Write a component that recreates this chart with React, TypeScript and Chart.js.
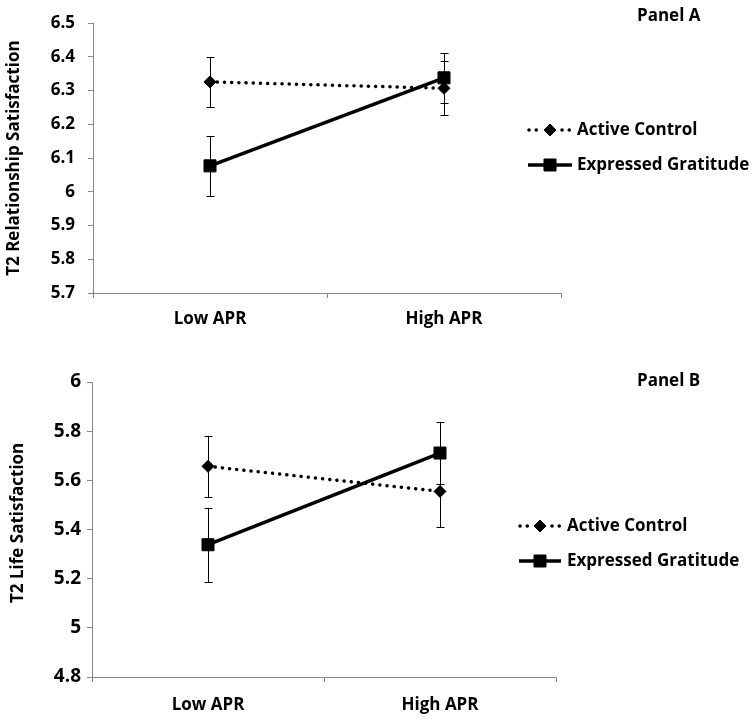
import React, { useEffect, useRef } from "react";
import { Chart, registerables } from "chart.js";

Chart.register(...registerables);

// ---------- data ----------
const categories = ["Low APR", "High APR"];
const seriesNames = ["Active Control", "Expressed Gratitude"];

const panelATicks = [5.7, 5.8, 5.9, 6.0, 6.1, 6.2, 6.3, 6.4, 6.5];
const panelAControl = [6.326, 6.307];
const panelAControlErr = [0.075, 0.08];
const panelAGratitude = [6.077, 6.338];
const panelAGratitudeErr = [0.089, 0.074];

const panelBTicks = [4.8, 5.0, 5.2, 5.4, 5.6, 5.8, 6.0];
const panelBControl = [5.657, 5.555];
const panelBControlErr = [0.125, 0.145];
const panelBGratitude = [5.338, 5.711];
const panelBGratitudeErr = [0.151, 0.126];

const FONT = "'Open Sans', 'Noto Sans', sans-serif";
const FS = 17;

type Spec = {
  panelTitle: string;
  yTitle: string;
  ticks: number[];
  control: number[];
  controlErr: number[];
  gratitude: number[];
  gratitudeErr: number[];
  top: number;
  height: number;
  padTop: number;
  yWidth: number;
  xHeight: number;
  padRight: number;
  yTickPad: number;
  yTickSize: number;
  xTickPad: number;
  yTitlePad: number;
  yTitleShift: number;
  titleX: number;
  titleY: number;
  legendRows: number[];
  legendLine: [number, number];
  legendText: number;
};

const specs: Spec[] = [
  {
    panelTitle: "Panel A",
    yTitle: "T2 Relationship Satisfaction",
    ticks: panelATicks,
    control: panelAControl,
    controlErr: panelAControlErr,
    gratitude: panelAGratitude,
    gratitudeErr: panelAGratitudeErr,
    top: 0,
    height: 343,
    padTop: 17,
    yWidth: 93,
    xHeight: 50,
    padRight: 193,
    yTickPad: 13,
    yTickSize: 17,
    xTickPad: 11,
    yTitlePad: 4,
    yTitleShift: 0,
    titleX: 637,
    titleY: 16,
    legendRows: [130, 165],
    legendLine: [528, 572],
    legendText: 577,
  },
  {
    panelTitle: "Panel B",
    yTitle: "T2 Life Satisfaction",
    ticks: panelBTicks,
    control: panelBControl,
    controlErr: panelBControlErr,
    gratitude: panelBGratitude,
    gratitudeErr: panelBGratitudeErr,
    top: 360,
    height: 361,
    padTop: 22,
    yWidth: 92,
    xHeight: 44,
    padRight: 198,
    yTickPad: 6,
    yTickSize: 19,
    xTickPad: 13,
    yTitlePad: 8,
    yTitleShift: 3,
    titleX: 637,
    titleY: 21,
    legendRows: [166, 201],
    legendLine: [519, 561],
    legendText: 567,
  },
];

function drawMarker(ctx: CanvasRenderingContext2D, style: string, x: number, y: number, r: number) {
  ctx.beginPath();
  if (style === "rectRot") {
    ctx.moveTo(x - r, y);
    ctx.lineTo(x, y - r);
    ctx.lineTo(x + r, y);
    ctx.lineTo(x, y + r);
    ctx.closePath();
  } else {
    const s = r * Math.SQRT1_2;
    ctx.rect(x - s, y - s, 2 * s, 2 * s);
  }
  ctx.fill();
  ctx.stroke();
}

function makeChart(canvas: HTMLCanvasElement, spec: Spec) {
  const errors = [spec.controlErr, spec.gratitudeErr];

  const errorBars = {
    id: "errorBars",
    beforeDatasetsDraw(chart: any) {
      const ctx = chart.ctx as CanvasRenderingContext2D;
      const xs = chart.scales.x;
      const ys = chart.scales.y;
      ctx.save();
      ctx.strokeStyle = "#000";
      ctx.lineWidth = 1;
      chart.data.datasets.forEach((ds: any, di: number) => {
        ds.data.forEach((v: number, i: number) => {
          const e = errors[di][i];
          const x = Math.round(xs.getPixelForValue(i)) + 0.5;
          const y1 = Math.round(ys.getPixelForValue(v + e)) + 0.5;
          const y2 = Math.round(ys.getPixelForValue(v - e)) + 0.5;
          ctx.beginPath();
          ctx.moveTo(x, y1);
          ctx.lineTo(x, y2);
          ctx.moveTo(x - 4, y1);
          ctx.lineTo(x + 4, y1);
          ctx.moveTo(x - 4, y2);
          ctx.lineTo(x + 4, y2);
          ctx.stroke();
        });
      });
      ctx.restore();
    },
  };

  const overlay = {
    id: "overlay",
    afterDraw(chart: any) {
      const ctx = chart.ctx as CanvasRenderingContext2D;
      ctx.save();
      ctx.fillStyle = "#000";
      ctx.font = `bold ${FS}px ${FONT}`;
      ctx.textBaseline = "middle";
      ctx.textAlign = "left";
      ctx.fillText(spec.panelTitle, spec.titleX, spec.titleY);

      chart.data.datasets.forEach((ds: any, di: number) => {
        const y = spec.legendRows[di];
        const [x0, x1] = spec.legendLine;
        const cx = (x0 + x1) / 2;
        const dashed = ds.borderDash && ds.borderDash.length;
        ctx.save();
        ctx.strokeStyle = ds.borderColor;
        ctx.lineWidth = ds.borderWidth;
        ctx.lineCap = ds.borderCapStyle || "butt";
        if (dashed) {
          ctx.setLineDash(ds.borderDash);
          const gap = ds.pointRadius + 5;
          ctx.beginPath();
          ctx.moveTo(x0 + 1, y);
          ctx.lineTo(cx - gap, y);
          ctx.stroke();
          ctx.beginPath();
          ctx.moveTo(cx + gap + 1, y);
          ctx.lineTo(x1, y);
          ctx.stroke();
        } else {
          ctx.beginPath();
          ctx.moveTo(x0, y);
          ctx.lineTo(x1, y);
          ctx.stroke();
        }
        ctx.restore();
        ctx.save();
        ctx.fillStyle = ds.pointBackgroundColor;
        ctx.strokeStyle = ds.pointBorderColor;
        ctx.lineWidth = ds.pointBorderWidth;
        drawMarker(ctx, ds.pointStyle, cx, y, ds.pointRadius);
        ctx.restore();
        ctx.fillStyle = "#000";
        ctx.font = `bold ${FS}px ${FONT}`;
        ctx.fillText(ds.label, spec.legendText, y);
      });
      ctx.restore();
    },
  };

  const fmt = (v: number) => String(parseFloat(Number(v).toFixed(1)));
  const pad = "\u00A0".repeat(spec.yTitleShift);

  return new Chart(canvas, {
    type: "line",
    data: {
      labels: categories,
      datasets: [
        {
          label: seriesNames[0],
          data: spec.control,
          borderColor: "#000",
          borderWidth: 3.5,
          borderDash: [0.1, 7.1],
          borderCapStyle: "round",
          pointStyle: "rectRot",
          pointRadius: 6,
          pointBackgroundColor: "#000",
          pointBorderColor: "#000",
          pointBorderWidth: 1,
          fill: false,
          tension: 0,
        } as any,
        {
          label: seriesNames[1],
          data: spec.gratitude,
          borderColor: "#000",
          borderWidth: 3.5,
          borderCapStyle: "butt",
          pointStyle: "rect",
          pointRadius: 8.5,
          pointBackgroundColor: "#000",
          pointBorderColor: "#000",
          pointBorderWidth: 1,
          fill: false,
          tension: 0,
        } as any,
      ],
    },
    options: {
      responsive: false,
      maintainAspectRatio: false,
      devicePixelRatio: 1,
      animation: false,
      events: [],
      layout: { padding: { left: 0, top: spec.padTop, right: spec.padRight, bottom: 0 } },
      plugins: {
        legend: { display: false },
        tooltip: { enabled: false },
        title: { display: false },
      },
      scales: {
        x: {
          type: "category",
          offset: true,
          border: { color: "#888", width: 1 },
          grid: {
            offset: true,
            drawOnChartArea: false,
            drawTicks: true,
            tickLength: 5,
            color: "#888",
          },
          ticks: {
            color: "#000",
            font: { family: FONT, size: FS, weight: "bold" },
            padding: spec.xTickPad,
            maxRotation: 0,
          },
          afterFit: (s: any) => {
            s.height = spec.xHeight;
          },
        },
        y: {
          type: "linear",
          min: spec.ticks[0],
          max: spec.ticks[spec.ticks.length - 1],
          border: { color: "#888", width: 1 },
          grid: {
            drawOnChartArea: false,
            drawTicks: true,
            tickLength: 5,
            color: "#888",
          },
          ticks: {
            color: "#000",
            font: { family: FONT, size: spec.yTickSize, weight: "bold" },
            padding: spec.yTickPad,
            callback: (v: any) => fmt(v),
          },
          afterBuildTicks: (s: any) => {
            s.ticks = spec.ticks.map((v) => ({ value: v }));
          },
          title: {
            display: true,
            text: pad + spec.yTitle,
            color: "#000",
            font: { family: FONT, size: FS, weight: "bold" },
            padding: { top: spec.yTitlePad, bottom: 0 },
          },
          afterFit: (s: any) => {
            s.width = spec.yWidth;
          },
        },
      },
    } as any,
    plugins: [errorBars, overlay],
  });
}

function Panel({ spec }: { spec: Spec }) {
  const ref = useRef<HTMLCanvasElement | null>(null);
  useEffect(() => {
    if (!ref.current) return;
    const chart = makeChart(ref.current, spec);
    return () => chart.destroy();
  }, [spec]);
  return (
    <canvas
      ref={ref}
      width={754}
      height={spec.height}
      style={{ position: "absolute", left: 0, top: spec.top, width: 754, height: spec.height, display: "block" }}
    />
  );
}

export default function App() {
  return (
    <div style={{ position: "absolute", left: 0, top: 0, width: 754, height: 721, background: "#fff", overflow: "hidden" }}>
      {specs.map((s) => (
        <Panel key={s.panelTitle} spec={s} />
      ))}
    </div>
  );
}
